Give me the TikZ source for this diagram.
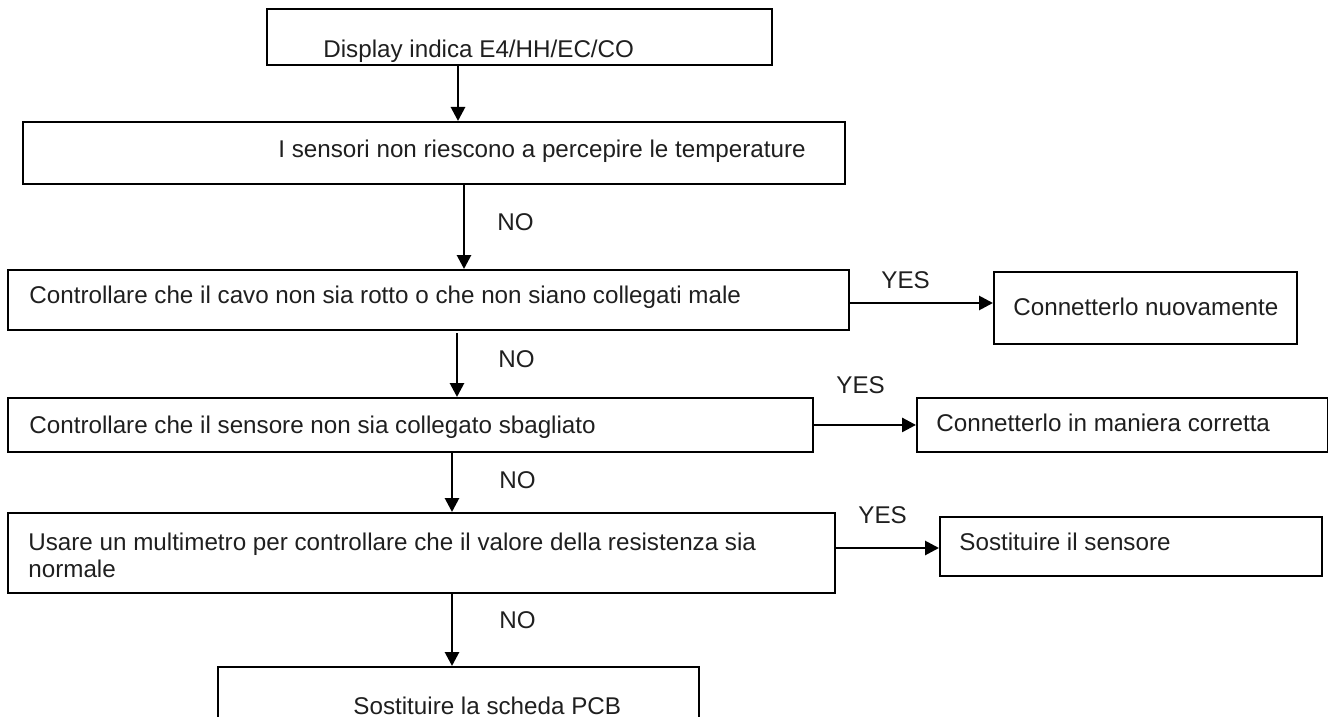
\documentclass[tikz,border=0pt]{standalone}
\usepackage{fontspec}
\setmainfont{Liberation Sans}
\usetikzlibrary{arrows.meta}

\begin{document}
\begin{tikzpicture}[x=0.5pt, y=-0.5pt,
    box/.style={draw, line width=0.95pt, inner sep=0pt, anchor=north west},
    txt/.style={inner sep=0pt, anchor=base west, text=black!88, font=\fontsize{12.1}{13.5}\selectfont},
    arr/.style={-{Triangle[length=7pt, width=7pt]}, line width=1.4pt}]

  \useasboundingbox (0,0) rectangle (1328,717);
  \clip (0,0) rectangle (1328,717);

  % --- display ---
  \node[box, minimum width=252.5pt, minimum height=28pt] (b1) at (266,8) {};
  \node[txt] (t1) at (323,58) {Display indica E4/HH/EC/CO};

  % --- sensori ---
  \node[box, minimum width=411pt, minimum height=31pt] (b2) at (22,121) {};
  \node[txt] (t2) at (278,157) {I sensori non riescono a percepire le temperature};

  % --- cavo ---
  \node[box, minimum width=420.5pt, minimum height=30pt] (b3) at (7,269) {};
  \node[txt] (t3) at (29,303) {Controllare che il cavo non sia rotto o che non siano collegati male};
  \node[box, minimum width=151.5pt, minimum height=36pt] (b4) at (993,271) {};
  \node[txt] (t4) at (1013,315) {Connetterlo nuovamente};

  % --- collegamento sensore ---
  \node[box, minimum width=402.5pt, minimum height=27pt] (b5) at (7,397) {};
  \node[txt] (t5) at (29,433) {Controllare che il sensore non sia collegato sbagliato};
  \node[box, minimum width=205.25pt, minimum height=27pt] (b6) at (916,397) {};
  \node[txt] (t6) at (936,431) {Connetterlo in maniera corretta};

  % --- multimetro ---
  \node[box, minimum width=413.5pt, minimum height=40pt] (b7) at (7,512) {};
  \node[txt] (t7a) at (28,550) {Usare un multimetro per controllare che il valore della resistenza sia};
  \node[txt] (t7b) at (28,577) {normale};
  \node[box, minimum width=191pt, minimum height=29.5pt] (b8) at (939,516) {};
  \node[txt] (t8) at (959,550) {Sostituire il sensore};

  % --- scheda ---
  \node[box, minimum width=240.5pt, minimum height=40pt] (b9) at (217,666) {};
  \node[txt] (t9) at (353,714) {Sostituire la scheda PCB};

  % --- frecce NO ---
  \draw[arr] (458,0 |- b1.south) -- (458,0 |- b2.north);
  \draw[arr] (464,0 |- b2.south) -- (464,0 |- b3.north);
  \draw[arr] (457,333) -- (457,0 |- b5.north);
  \draw[arr] (452,0 |- b5.south) -- (452,0 |- b7.north);
  \draw[arr] (452,0 |- b7.south) -- (452,0 |- b9.north);
  \node[txt] (no1) at (497,230) {NO};
  \node[txt] (no2) at (498,367) {NO};
  \node[txt] (no3) at (499,488) {NO};
  \node[txt] (no4) at (499,628) {NO};

  % --- frecce YES ---
  \draw[arr] (b3.east |- 0,303) -- (b4.west |- 0,303);
  \draw[arr] (b5.east) -- (b6.west |- b5.east);
  \draw[arr] (b7.east |- 0,548) -- (b8.west |- 0,548);
  \node[txt] (yes1) at (881,288) {YES};
  \node[txt] (yes2) at (836,393) {YES};
  \node[txt] (yes3) at (858,523) {YES};

\end{tikzpicture}
\end{document}
